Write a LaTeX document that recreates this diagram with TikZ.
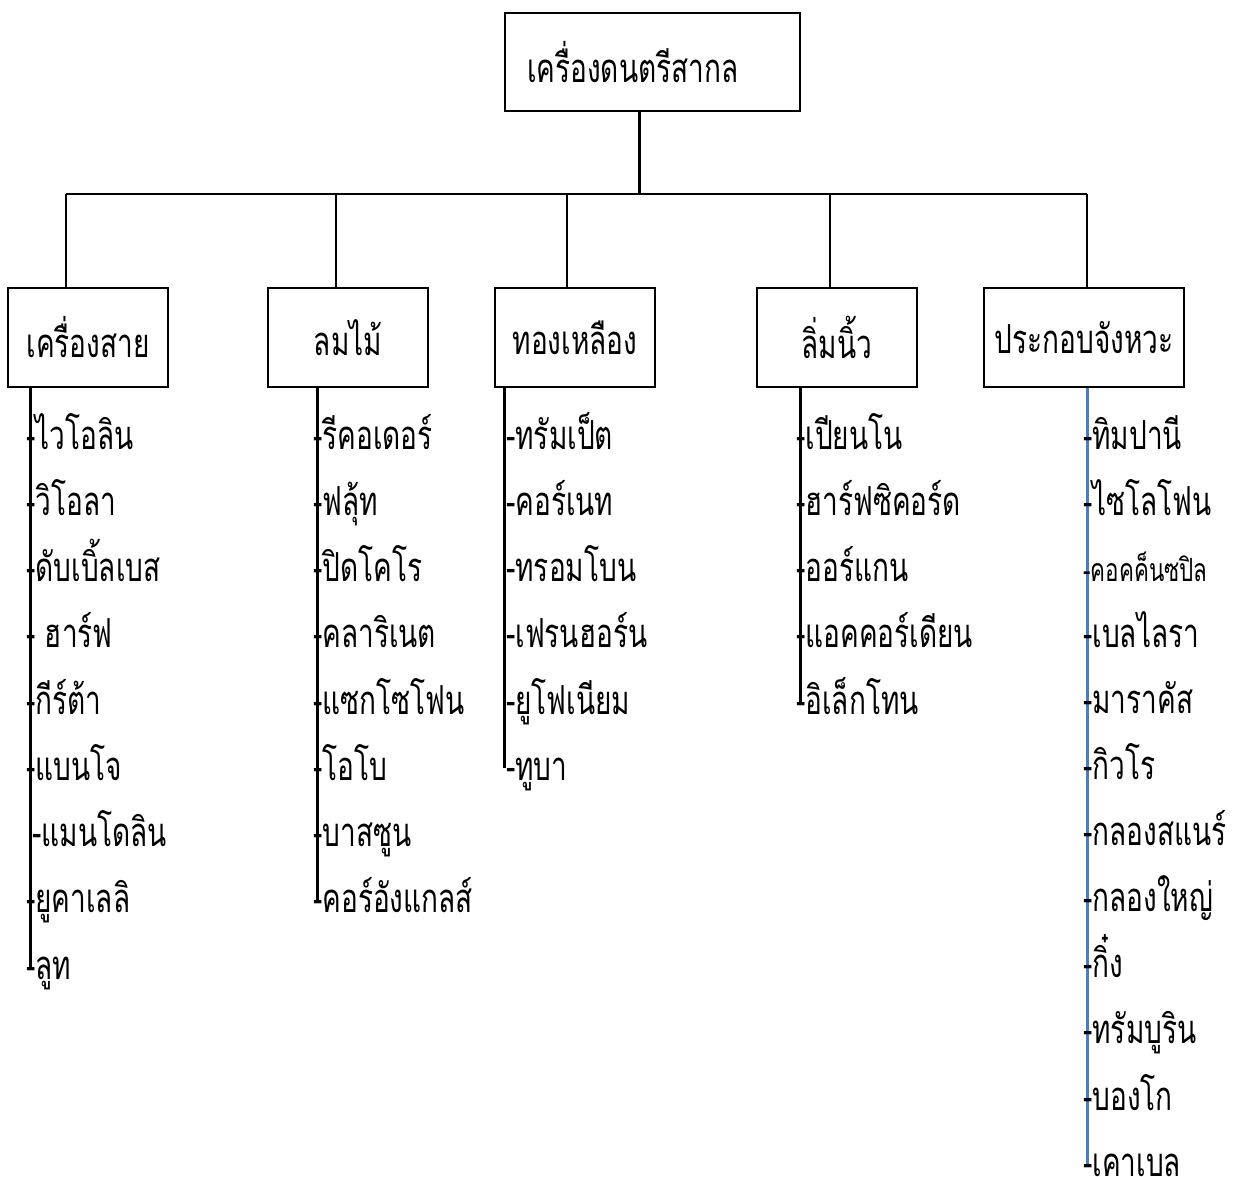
\documentclass[tikz,border=0pt]{standalone}
\usepackage{fontspec}
\usetikzlibrary{calc}
\newfontfamily\thai[Script=Thai,FakeStretch=0.7]{Loma}
\definecolor{trunkblue}{RGB}{74,126,187}
\begin{document}
\begin{tikzpicture}[x=1pt,y=-1pt,
  box/.style={draw=black, line width=1.5pt, inner sep=0pt, minimum height=99pt, font=\thai\fontsize{40}{46}\selectfont},
  item/.style={anchor=base west, inner sep=0pt, font=\thai\fontsize{40}{46}\selectfont},
  bus/.style={line width=2pt},
  trunk/.style={line width=3pt}]
\useasboundingbox (0,0) rectangle (1236,1176);
\fill[white] (0,0) rectangle (1236,1176);

% root
\node[box, minimum width=295pt, minimum height=98pt, text width=251pt, inner xsep=22pt, align=left] (root) at (652.5,62) {เครื่องดนตรีสากล};

% categories
\node[box, minimum width=160pt] (cat1) at (88,337.5) {เครื่องสาย};
\node[box, minimum width=160pt] (cat2) at (348,337.5) {ลมไม้};
\node[box, minimum width=160pt] (cat3) at (575,337.5) {ทองเหลือง};
\node[box, minimum width=160pt] (cat4) at (837,337.5) {ลิ่มนิ้ว};
\node[box, minimum width=200pt] (cat5) at (1084,337.5) {ประกอบจังหวะ};

% bus
\coordinate (hub) at (639,194);
\coordinate (d1) at (66,194);
\coordinate (d2) at (336,194);
\coordinate (d3) at (567,194);
\coordinate (d4) at (830,194);
\coordinate (d5) at (1087,194);
\draw[trunk] (root.south -| hub) -- (hub);
\draw[bus] (d1) -- (d5);
\foreach \i in {1,...,5} \draw[bus] (d\i) -- (d\i |- cat\i.north);

% trunks
\coordinate (t1) at (30,967);
\coordinate (t2) at (317,901);
\coordinate (t3) at (504,768);
\coordinate (t4) at (800,702);
\coordinate (t5) at (1087,1165);
\draw[trunk] (t1 |- cat1.south) -- (t1);
\draw[trunk] (t2 |- cat2.south) -- (t2);
\draw[trunk] (t3 |- cat3.south) -- (t3);
\draw[trunk] (t4 |- cat4.south) -- (t4);
\draw[trunk, trunkblue] (t5 |- cat5.south) -- (t5);

% items
\foreach \t [count=\n] in {-ไวโอลิน,-วิโอลา,-ดับเบิ้ลเบส,- ฮาร์ฟ,-กีร์ต้า,-แบนโจ,\hspace{6pt}-แมนโดลิน,-ยูคาเลลิ,-ลูท}
  \node[item] (a\n) at ($(t1 |- 0,437)+(-4,{12+66.25*(\n-1)})$) {\t};
\foreach \t [count=\n] in {-รีคอเดอร์,-ฟลุ้ท,-ปิดโคโร,-คลาริเนต,-แซกโซโฟน,-โอโบ,-บาสซูน,-คอร์อังแกลส์}
  \node[item] (b\n) at ($(t2 |- 0,437)+(-4,{12+66.25*(\n-1)})$) {\t};
\foreach \t [count=\n] in {-ทรัมเป็ต,-คอร์เนท,-ทรอมโบน,-เฟรนฮอร์น,-ยูโฟเนียม,-ทูบา}
  \node[item] (c\n) at ($(t3 |- 0,437)+(2,{12+66.25*(\n-1)})$) {\t};
\foreach \t [count=\n] in {-เปียนโน,-ฮาร์ฟซิคอร์ด,-ออร์แกน,-แอคคอร์เดียน,-อิเล็กโทน}
  \node[item] (e\n) at ($(t4 |- 0,437)+(-4,{12+66.25*(\n-1)})$) {\t};
\foreach \t [count=\n] in {-ทิมปานี,-ไซโลโฟน,{\fontsize{32}{36}\selectfont -คอคค็นซปิล},-เบลไลรา,-มาราคัส,-กิวโร,-กลองสแนร์,-กลองใหญ่,-กิ๋ง,-ทรัมบูริน,-บองโก,-เคาเบล}
  \node[item] (f\n) at ($(t5 |- 0,437)+(-4,{12+66.1*(\n-1)})$) {\t};
\end{tikzpicture}
\end{document}
